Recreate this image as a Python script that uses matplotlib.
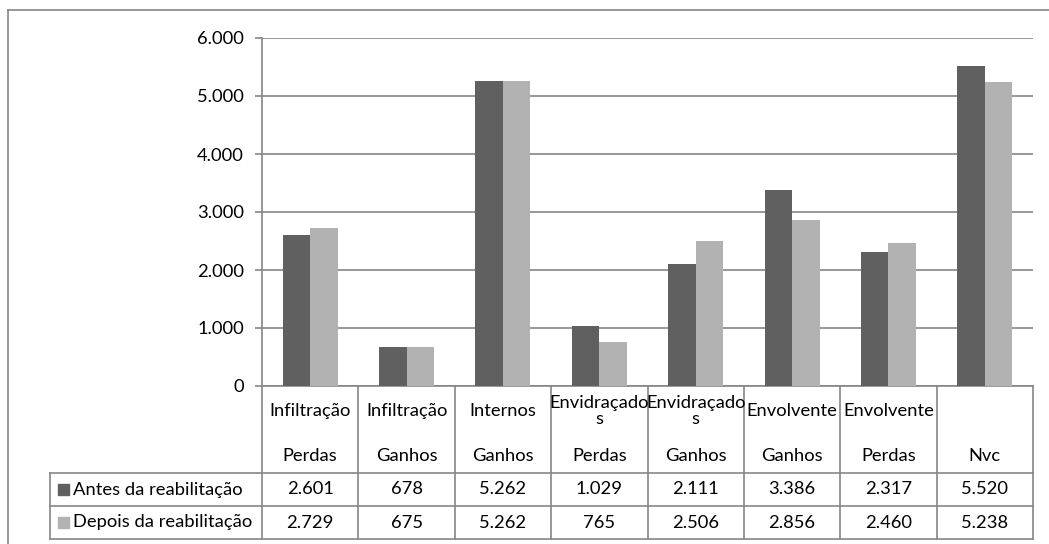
import numpy as np
import matplotlib
matplotlib.use("Agg")
import matplotlib.pyplot as plt
from matplotlib.lines import Line2D
from matplotlib.patches import Rectangle
from matplotlib.transforms import blended_transform_factory

plt.rcParams["font.family"] = ["Lato", "DejaVu Sans"]

# Category levels (outer group / inner type)
groups = ["Infiltração", "Infiltração", "Internos", "Envidraçados",
          "Envidraçados", "Envolvente", "Envolvente", ""]
types = ["Perdas", "Ganhos", "Ganhos", "Perdas",
         "Ganhos", "Ganhos", "Perdas", "Nvc"]

series_names = ["Antes da reabilitação", "Depois da reabilitação"]
antes = [2601, 678, 5262, 1029, 2111, 3386, 2317, 5520]
depois = [2729, 675, 5262, 765, 2506, 2856, 2460, 5238]
colors = ["#606060", "#b2b2b2"]

y_ticks = [0, 1000, 2000, 3000, 4000, 5000, 6000]

W, H = 1049, 544
LINE = "#868686"
FS = 13.2


def fmt(v):
    return f"{v:,}".replace(",", ".")


def wrap(label, width=11):
    if len(label) > width:
        return label[:width] + "\n" + label[width:]
    return label


fig = plt.figure(figsize=(W / 100, H / 100), dpi=100)

# plot area in pixel terms
left, right, top, bottom = 262, 1033, 38, 386
ax = fig.add_axes([left / W, 1 - bottom / H, (right - left) / W, (bottom - top) / H])

x = np.arange(len(types))
bw = 0.285
ax.bar(x - bw / 2, antes, bw, color=colors[0], zorder=3)
ax.bar(x + bw / 2, depois, bw, color=colors[1], zorder=3)

ax.set_xlim(-0.5, len(types) - 0.5)
ax.set_ylim(0, 6000)
ax.set_yticks(y_ticks)
ax.set_yticklabels([fmt(t) for t in y_ticks], fontsize=FS)
ax.set_xticks([])
ax.yaxis.grid(True, color=LINE, lw=1.2)
ax.set_axisbelow(True)
ax.tick_params(axis="y", length=5, width=1.2, color=LINE, pad=8)
for s in ["top", "right"]:
    ax.spines[s].set_visible(False)
for s in ["left", "bottom"]:
    ax.spines[s].set_color(LINE)
    ax.spines[s].set_linewidth(1.2)

# data table below the plot
tr = blended_transform_factory(ax.transData, ax.transAxes)


def ya(p):
    return (bottom - p) / (bottom - top)


row_top, row_mid, row_bot = 473, 506, 539
legend_left = -0.5 - (left - 50) / ((right - left) / len(types))

kw = dict(transform=tr, clip_on=False, color=LINE, lw=1.2)
for b in np.arange(-0.5, len(types), 1.0):
    ax.add_line(Line2D([b, b], [ya(bottom), ya(row_bot)], **kw))
ax.add_line(Line2D([legend_left, legend_left], [ya(row_top), ya(row_bot)], **kw))
for p in (row_top, row_mid, row_bot):
    ax.add_line(Line2D([legend_left, len(types) - 0.5], [ya(p), ya(p)], **kw))

for i, (g, t) in enumerate(zip(groups, types)):
    if g:
        ax.text(i, ya(411), wrap(g), transform=tr, ha="center", va="center",
                fontsize=FS, linespacing=1.0, clip_on=False)
    ax.text(i, ya(456), t, transform=tr, ha="center", va="center",
            fontsize=FS, clip_on=False)
    ax.text(i, ya(489.5), fmt(antes[i]), transform=tr, ha="center",
            va="center", fontsize=FS, clip_on=False)
    ax.text(i, ya(522.5), fmt(depois[i]), transform=tr, ha="center",
            va="center", fontsize=FS, clip_on=False)

# row headers with legend keys
for name, col, yc in zip(series_names, colors, (489.5, 522.5)):
    fig.add_artist(Rectangle((58 / W, 1 - (yc + 5) / H), 11 / W, 11 / H,
                             transform=fig.transFigure, color=col))
    fig.text(73 / W, 1 - yc / H, name, ha="left", va="center", fontsize=FS)

# chart frame
fig.add_artist(Line2D([8 / W, 1.0], [1 - 10 / H] * 2, transform=fig.transFigure,
                      color=LINE, lw=1.2))
fig.add_artist(Line2D([8 / W] * 2, [1 - 10 / H, 0.0], transform=fig.transFigure,
                      color=LINE, lw=1.2))

fig.savefig("out.png", dpi=100, facecolor="white")
